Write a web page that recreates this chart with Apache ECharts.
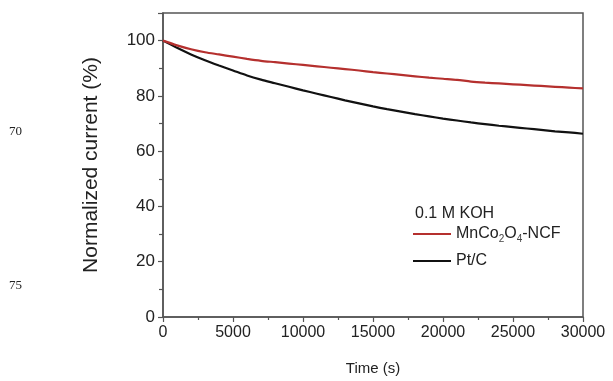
<!DOCTYPE html>
<html>
<head>
<meta charset="utf-8">
<script src="https://cdn.jsdelivr.net/npm/echarts@6/dist/echarts.min.js"></script>
<style>html,body{margin:0;padding:0;background:#fff;}#c{width:613px;height:381px;}</style>
</head>
<body>
<div id="c"></div>
<script>
var times = [0,1000,2000,3000,4000,5000,6000,7000,8000,9000,10000,11000,12000,13000,14000,15000,16000,17000,18000,19000,20000,21000,22000,23000,24000,25000,26000,27000,28000,29000,30000];
var mnco = [100,98.3,96.9,95.8,95.0,94.2,93.4,92.7,92.2,91.7,91.2,90.7,90.2,89.7,89.2,88.6,88.1,87.6,87.1,86.6,86.2,85.8,85.2,84.8,84.5,84.2,83.9,83.6,83.3,83.0,82.7];
var ptc = [100,97.4,95.0,92.9,91.0,89.2,87.4,85.9,84.6,83.3,82.0,80.8,79.6,78.4,77.3,76.2,75.2,74.3,73.4,72.6,71.8,71.1,70.4,69.8,69.2,68.7,68.2,67.7,67.2,66.8,66.3];
var seriesNames = ['MnCo2O4-NCF','Pt/C'];
var xTitle = 'Time (s)';
var yTitle = 'Normalized current (%)';
var legendTitle = '0.1 M KOH';
var sideNotes = ['70','75'];

function pairs(xs, ys){ return xs.map(function(x,i){ return [x, ys[i]]; }); }

var chart = echarts.init(document.getElementById('c'), null, {renderer:'canvas'});
var font = 'Liberation Sans, Arial, sans-serif';
var axisColor = '#555';
var red = '#b5302e';
chart.setOption({
  animation:false,
  backgroundColor:'#fff',
  grid:{left:163, right:30, top:13, bottom:56, show:true, borderColor:axisColor, borderWidth:1.5, backgroundColor:'transparent'},
  xAxis:{
    type:'value', min:0, max:30000, interval:5000,
    name:xTitle, nameLocation:'middle', nameGap:44,
    nameTextStyle:{fontFamily:font, fontSize:15, color:'#222'},
    axisLine:{show:true, lineStyle:{color:axisColor, width:1.5}},
    axisTick:{show:true, length:5, lineStyle:{color:axisColor, width:1.2}},
    minorTick:{show:true, splitNumber:2, length:3, lineStyle:{color:axisColor, width:1.2}},
    splitLine:{show:false},
    axisLabel:{fontFamily:font, fontSize:16, color:'#222', margin:8, formatter:function(v){ return String(v); }}
  },
  yAxis:{
    type:'value', min:0, max:110, interval:20,
    name:yTitle, nameLocation:'middle', nameGap:61, nameRotate:90,
    nameTextStyle:{fontFamily:font, fontSize:21, color:'#222'},
    axisLine:{show:true, lineStyle:{color:axisColor, width:1.5}},
    axisTick:{show:true, length:5, lineStyle:{color:axisColor, width:1.2}},
    minorTick:{show:true, splitNumber:2, length:4, lineStyle:{color:axisColor, width:1.2}},
    splitLine:{show:false},
    axisLabel:{fontFamily:font, fontSize:17, color:'#222', margin:8, showMaxLabel:false}
  },
  legend:{
    orient:'vertical', left:408, top:221, itemWidth:38, itemHeight:2.2, itemGap:9, icon:'rect',
    data:[{name:seriesNames[0]},{name:seriesNames[1]}],
    formatter:function(n){ return n === seriesNames[0] ? 'MnCo{sub|2}O{sub|4}-NCF' : n; },
    textStyle:{fontFamily:font, fontSize:16, color:'#222', padding:[0,0,0,0],
      rich:{sub:{fontFamily:font, fontSize:10, color:'#444', verticalAlign:'bottom', padding:[10,0,0,0]}}}
  },
  graphic:[
    {type:'text', left:415, top:206, style:{text:legendTitle, font:'16px Liberation Sans, Arial, sans-serif', fill:'#222'}},
    {type:'text', left:9, top:125, style:{text:sideNotes[0], font:'13px Liberation Serif, Times New Roman, serif', fill:'#222'}},
    {type:'text', left:9, top:279, style:{text:sideNotes[1], font:'13px Liberation Serif, Times New Roman, serif', fill:'#222'}}
  ],
  series:[
    {name:seriesNames[0], type:'line', data:pairs(times, mnco), showSymbol:false, symbol:'none', smooth:0.3,
     lineStyle:{color:red, width:2.2}, itemStyle:{color:red}, z:3},
    {name:seriesNames[1], type:'line', data:pairs(times, ptc), showSymbol:false, symbol:'none', smooth:0.3,
     lineStyle:{color:'#111', width:2.2}, itemStyle:{color:'#111'}, z:2}
  ]
});
</script>
</body>
</html>
